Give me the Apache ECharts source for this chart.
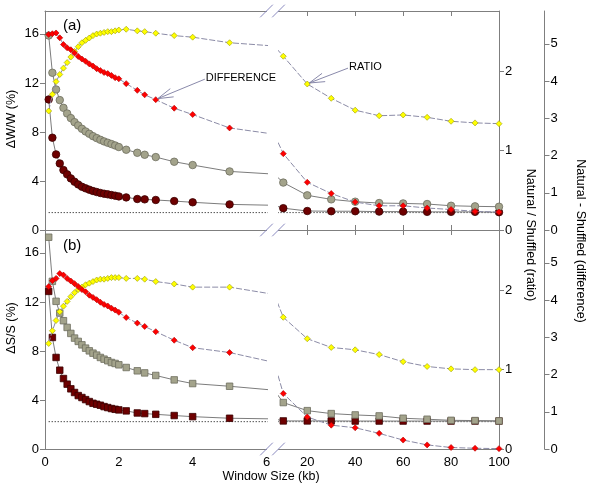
<!DOCTYPE html>
<html><head><meta charset="utf-8">
<script src="https://cdn.jsdelivr.net/npm/echarts@6/dist/echarts.min.js"></script>
<style>html,body{margin:0;padding:0;background:#fff}#c{width:593px;height:491px}</style>
</head><body><div id="c"></div>
<script>
// ---------- data ----------
const xLeft = [0.1,0.2,0.3,0.4,0.5,0.6,0.7,0.8,0.9,1.0,1.1,1.2,1.3,1.4,1.5,1.6,1.7,1.8,1.9,2.0,2.2,2.5,2.7,3.0,3.5,4.0,5.0];
const xRight = [10,20,30,40,50,60,70,80,90,100];
const xTicksLeft = [0,2,4,6];
const xTicksRight = [20,40,60,80,100];
const pctTicks = [0,4,8,12,16];
const ratioTicks = [0,1,2];
const diffTicks = [0,1,2,3,4,5];

// panel (a)  ΔW/W
const aDarkLeft  = [10.65,7.53,6.17,5.43,4.89,4.54,4.21,3.94,3.72,3.53,3.40,3.29,3.18,3.10,3.02,2.96,2.91,2.85,2.80,2.74,2.66,2.53,2.50,2.45,2.36,2.26,2.09];
const aDarkRight = [1.78,1.55,1.53,1.53,1.50,1.50,1.48,1.48,1.48,1.45];
const aGrayLeft  = [15.87,12.83,11.47,10.60,9.97,9.51,9.13,8.80,8.53,8.26,8.04,7.85,7.66,7.50,7.36,7.23,7.12,7.01,6.90,6.77,6.55,6.30,6.14,5.95,5.57,5.30,4.78];
const aGrayRight = [3.87,2.83,2.50,2.31,2.20,2.17,2.12,1.98,1.93,1.90];
const aRatioLeft = [1.50,1.71,1.87,1.96,2.04,2.11,2.18,2.25,2.31,2.36,2.39,2.42,2.45,2.47,2.48,2.49,2.50,2.50,2.51,2.52,2.53,2.51,2.50,2.48,2.45,2.43,2.36];
const aRatioRight= [2.19,1.84,1.66,1.51,1.44,1.45,1.42,1.37,1.35,1.34];
const aDiffLeft  = [5.25,5.27,5.29,5.16,4.98,4.89,4.84,4.75,4.66,4.59,4.53,4.46,4.40,4.33,4.28,4.23,4.20,4.15,4.09,4.06,3.93,3.75,3.63,3.50,3.27,3.10,2.74];
const aDiffRight = [2.05,1.28,0.98,0.75,0.65,0.65,0.59,0.55,0.50,0.48];
const aDotted = 1.42;

// panel (b)  ΔS/S
const bDarkLeft  = [12.86,9.10,7.47,6.43,5.75,5.29,4.91,4.61,4.36,4.20,4.03,3.87,3.73,3.65,3.57,3.46,3.38,3.30,3.24,3.19,3.11,2.94,2.89,2.83,2.73,2.64,2.51];
const bDarkRight = [2.29,2.29,2.29,2.28,2.28,2.28,2.28,2.28,2.28,2.28];
const bGrayLeft  = [17.28,13.68,12.05,11.09,10.47,9.92,9.43,9.05,8.78,8.50,8.23,8.01,7.82,7.66,7.47,7.33,7.20,7.06,6.98,6.87,6.65,6.38,6.21,6.00,5.64,5.34,5.12];
const bGrayRight = [3.79,3.13,2.89,2.78,2.70,2.51,2.43,2.34,2.32,2.29];
const bRatioLeft = [1.33,1.49,1.62,1.73,1.80,1.86,1.92,1.97,2.01,2.04,2.07,2.09,2.11,2.13,2.14,2.14,2.15,2.16,2.16,2.16,2.15,2.15,2.14,2.11,2.08,2.04,2.04];
const bRatioRight= [1.66,1.39,1.28,1.25,1.19,1.10,1.04,1.01,1.00,1.00];
const bDiffLeft  = [4.36,4.52,4.58,4.71,4.67,4.58,4.51,4.44,4.36,4.28,4.22,4.13,4.07,4.01,3.94,3.88,3.84,3.78,3.73,3.67,3.53,3.38,3.29,3.15,2.92,2.72,2.59];
const bDiffRight = [1.49,0.86,0.64,0.57,0.42,0.24,0.11,0.04,0.02,0.01];
const bDotted = 2.23;

// ---------- layout ----------
const FONT = '"Liberation Sans", Arial, sans-serif';
const L = 45, GL = 266.5, GR = 278.5, R = 499, T = 11, M = 230, B = 449, H = 219;
const pctMax = 17.87, ratioMax = 2.76, diffMax = 5.88;
const AX = '#7f7f7f';

const chart = echarts.init(document.getElementById('c'));

const grids = [
  {left: L, top: T, width: GL - L, height: H},
  {left: GR, top: T, width: R - GR, height: H},
  {left: L, top: M, width: GL - L, height: H},
  {left: GR, top: M, width: R - GR, height: H}
].map(g => Object.assign({containLabel: false, outerBoundsMode: 'none', show: false}, g));

function xAx(gi, pos, rightSeg, opt) {
  return Object.assign({
    gridIndex: gi, type: 'value', position: pos,
    min: rightSeg ? 8 : 0, max: rightSeg ? 100 : 6,
    axisLine: {show: true, onZero: false, lineStyle: {color: AX, width: 1}},
    axisTick: {show: false},
    axisLabel: {show: false},
    splitLine: {show: false}
  }, opt || {});
}
const tickIn = {show: true, inside: true, length: 5, customValues: xTicksRight, lineStyle: {color: AX}};
const xLab = (vals) => ({show: true, customValues: vals, margin: 7, fontSize: 13, fontFamily: FONT, color: '#000'});

const xAxis = [
  xAx(0, 'bottom', false), xAx(0, 'top', false),
  xAx(1, 'bottom', true, {axisTick: tickIn}), xAx(1, 'top', true, {axisTick: tickIn}),
  xAx(2, 'bottom', false, {axisLabel: xLab(xTicksLeft)}), xAx(2, 'top', false),
  xAx(3, 'bottom', true, {axisLabel: xLab(xTicksRight)}), xAx(3, 'top', true, {axisTick: tickIn})
];

function hiddenY(gi, max) { return {gridIndex: gi, type: 'value', min: 0, max: max, show: false}; }
function shownY(gi, max, pos, offset, ticks) {
  return {
    gridIndex: gi, type: 'value', min: 0, max: max, position: pos, offset: offset,
    axisLine: {show: true, onZero: false, lineStyle: {color: AX, width: 1}},
    axisTick: {show: true, inside: false, length: 5, customValues: ticks, lineStyle: {color: AX}},
    axisLabel: {show: true, customValues: ticks, margin: 6, fontSize: 13, fontFamily: FONT, color: '#000'},
    splitLine: {show: false}
  };
}
const yAxis = [];
[0, 2].forEach(gi => {
  yAxis.push(shownY(gi, pctMax, 'left', 0, pctTicks));
  yAxis.push(hiddenY(gi, ratioMax));
  yAxis.push(hiddenY(gi, diffMax));
  yAxis.push(hiddenY(gi + 1, pctMax));
  yAxis.push(shownY(gi + 1, ratioMax, 'right', 0, ratioTicks));
  yAxis.push(shownY(gi + 1, diffMax, 'right', 45.5, diffTicks));
});

// ---------- series ----------
const pairL = (l, r) => xLeft.map((x, i) => [x, l[i]]).concat([[xRight[0], r[0]]]);
const pairR = (l, r) => [[xLeft[xLeft.length - 1], l[l.length - 1]]].concat(xRight.map((x, i) => [x, r[i]]));

const solidLine = {color: '#7c7c7c', width: 1};
const dashLine = {color: '#8b8ba6', width: 1, type: [6, 2]};
function st(kind, shape) {
  if (kind === 'dark') return {symbol: shape, symbolSize: shape === 'circle' ? 7.5 : 6.5,
    itemStyle: {color: '#6e0000', borderColor: '#3a0000', borderWidth: 0.8}, lineStyle: solidLine, z: 3};
  if (kind === 'gray') return {symbol: shape, symbolSize: shape === 'circle' ? 7.5 : 6.5,
    itemStyle: {color: '#a3a38b', borderColor: '#6d6d5e', borderWidth: 0.8}, lineStyle: solidLine, z: 3};
  if (kind === 'ratio') return {symbol: 'diamond', symbolSize: 6,
    itemStyle: {color: '#ffff00', borderColor: '#9a9a00', borderWidth: 0.6}, lineStyle: dashLine, z: 4};
  return {symbol: 'diamond', symbolSize: 6,
    itemStyle: {color: '#ff0000', borderColor: '#b00000', borderWidth: 0.6}, lineStyle: dashLine, z: 5};
}
function mk(data, xi, yi, style) {
  return Object.assign({type: 'line', data: data, xAxisIndex: xi, yAxisIndex: yi, clip: true,
    animation: false, silent: true, emphasis: {disabled: true}}, style);
}
function dotted(v, xi, yi) {
  return {type: 'line', xAxisIndex: xi, yAxisIndex: yi, clip: true, animation: false, silent: true,
    symbol: 'none', z: 2, data: [[xLeft[0], v], [xRight[xRight.length - 1], v]],
    lineStyle: {color: '#000', width: 1, type: [1, 2]}};
}

const panels = [
  {dark: [aDarkLeft, aDarkRight], gray: [aGrayLeft, aGrayRight], ratio: [aRatioLeft, aRatioRight],
   diff: [aDiffLeft, aDiffRight], dot: aDotted, shape: 'circle'},
  {dark: [bDarkLeft, bDarkRight], gray: [bGrayLeft, bGrayRight], ratio: [bRatioLeft, bRatioRight],
   diff: [bDiffLeft, bDiffRight], dot: bDotted, shape: 'rect'}
];
const series = [];
panels.forEach((p, pi) => {
  [0, 1].forEach(side => {
    const gi = pi * 2 + side;
    const xi = gi * 2, yb = gi * 3;
    const pr = side === 0 ? pairL : pairR;
    series.push(dotted(p.dot, xi, yb));
    series.push(mk(pr(p.dark[0], p.dark[1]), xi, yb, st('dark', p.shape)));
    series.push(mk(pr(p.gray[0], p.gray[1]), xi, yb, st('gray', p.shape)));
    series.push(mk(pr(p.ratio[0], p.ratio[1]), xi, yb + 1, st('ratio')));
    series.push(mk(pr(p.diff[0], p.diff[1]), xi, yb + 2, st('diff')));
  });
});

chart.setOption({animation: false, backgroundColor: '#fff', grid: grids, xAxis: xAxis, yAxis: yAxis, series: series});

// ---------- decorations ----------
const gfx = [];
const brk = {stroke: '#8a8ac0', lineWidth: 1};
[T, M, B].forEach(y => {
  [GL, GR].forEach(x => {
    gfx.push({type: 'line', shape: {x1: x - 6.3, y1: y + 6.3, x2: x + 6.3, y2: y - 6.3}, style: brk, z: 100});
  });
});
function txt(x, y, text, size, align, rot) {
  return {type: 'text', x: x, y: y, rotation: rot || 0, z: 100,
    style: {text: text, fontSize: size, fontFamily: FONT, fill: '#000', align: align || 'center', verticalAlign: 'middle'}};
}
gfx.push(txt(63, 26, '(a)', 15, 'left'));
gfx.push(txt(63, 246, '(b)', 15, 'left'));
gfx.push(txt(12, 119, 'ΔW/W (%)', 12.5, 'center', Math.PI / 2));
gfx.push(txt(12, 328, 'ΔS/S (%)', 12.5, 'center', Math.PI / 2));
gfx.push(txt(530, 235, 'Natural / Shuffled (ratio)', 12.5, 'center', -Math.PI / 2));
gfx.push(txt(580, 241, 'Natural - Shuffled (difference)', 12.5, 'center', -Math.PI / 2));
gfx.push(txt(271, 477, 'Window Size (kb)', 12.5, 'center'));

function arrow(tip, tail, label) {
  const ast = {stroke: '#7c7ca0', lineWidth: 0.9};
  gfx.push({type: 'line', shape: {x1: tip[0], y1: tip[1], x2: tail[0], y2: tail[1]}, style: ast, z: 100});
  const ang = Math.atan2(tail[1] - tip[1], tail[0] - tip[0]);
  [-0.28, 0.28].forEach(d => {
    gfx.push({type: 'line', shape: {x1: tip[0], y1: tip[1], x2: tip[0] + 16 * Math.cos(ang + d), y2: tip[1] + 16 * Math.sin(ang + d)}, style: ast, z: 100});
  });
  gfx.push(txt(tail[0] + 1, tail[1] - 1, label, 11, 'left'));
}
// DIFFERENCE -> red point at x=3.0 in panel (a)
const iDiff = xLeft.indexOf(3.0);
const tipD = chart.convertToPixel({xAxisIndex: 0, yAxisIndex: 2}, [xLeft[iDiff], aDiffLeft[iDiff]]);
const tailD = chart.convertToPixel({xAxisIndex: 0, yAxisIndex: 2}, [4.33, 4.05]);
arrow([tipD[0] + 2, tipD[1] - 1], tailD, 'DIFFERENCE');
// RATIO -> yellow point at x=20 in panel (a)
const tipR = chart.convertToPixel({xAxisIndex: 2, yAxisIndex: 4}, [xRight[1], aRatioRight[1]]);
const tailR = chart.convertToPixel({xAxisIndex: 2, yAxisIndex: 4}, [37.0, 2.04]);
arrow([tipR[0] + 2, tipR[1] - 1], tailR, 'RATIO');

chart.setOption({graphic: {elements: gfx}});
</script>
</body></html>
